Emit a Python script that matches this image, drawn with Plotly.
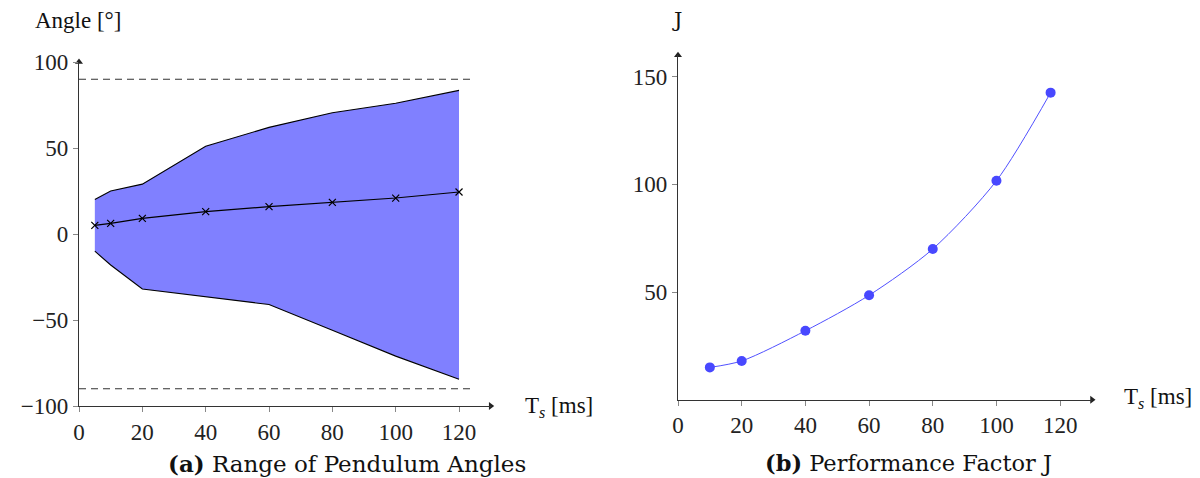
import plotly.graph_objects as go

W, H = 1200, 478

# ---- data (a) ----
ts_a = [5, 10, 20, 40, 60, 80, 100, 120]
angle_max = [20, 25, 29, 51, 62, 70.5, 76, 83.5]
angle_min = [-10, -18, -32, -36.5, -41, -56, -71, -84.5]
angle_mean = [5, 6.2, 9.1, 13, 15.9, 18.4, 20.9, 24.4]
limit_x = [0, 125]
limit_hi = [90, 90]
limit_lo = [-90, -90]

# ---- data (b) ----
ts_b = [10, 20, 40, 60, 80, 100, 117]
perf_j = [15, 18, 32, 48.5, 70, 101.7, 142.6]

xt_vals = [0, 20, 40, 60, 80, 100, 120]
ya_vals = [-100, -50, 0, 50, 100]
ya_text = ["\u2212100", "\u221250", "0", "50", "100"]
yb_vals = [50, 100, 150]

SERIF = "Liberation Serif"
TICK_FONT = dict(family=SERIF, size=23, color="#222")
CAP_FONT = "DejaVu Serif"

def px(x):
    return x / W

def py(y):
    return 1 - y / H

fig = go.Figure()

# filled band
fig.add_trace(go.Scatter(
    x=ts_a + ts_a[::-1], y=angle_max + angle_min[::-1],
    fill="toself", fillcolor="rgb(128,128,255)", line=dict(width=0),
    mode="lines", xaxis="x", yaxis="y", hoverinfo="skip"))
fig.add_trace(go.Scatter(x=ts_a, y=angle_max, mode="lines",
                         line=dict(color="black", width=1.1), xaxis="x", yaxis="y"))
fig.add_trace(go.Scatter(x=ts_a, y=angle_min, mode="lines",
                         line=dict(color="black", width=1.1), xaxis="x", yaxis="y"))
fig.add_trace(go.Scatter(x=ts_a, y=angle_mean, mode="lines+markers",
                         line=dict(color="black", width=1.1),
                         marker=dict(symbol="x-thin", size=7, line=dict(color="black", width=1.2)),
                         xaxis="x", yaxis="y"))
for yy in (limit_hi, limit_lo):
    fig.add_trace(go.Scatter(x=limit_x, y=yy, mode="lines",
                             line=dict(color="#333", width=1.1, dash="7px,5px"),
                             xaxis="x", yaxis="y"))

# (b)
fig.add_trace(go.Scatter(x=ts_b, y=perf_j, mode="lines+markers",
                         line=dict(color="rgb(80,80,255)", width=1, shape="spline", smoothing=0.8),
                         marker=dict(color="rgb(72,72,255)", size=10),
                         xaxis="x2", yaxis="y2"))

# arrow heads at axis ends
for ax_x, ax_y, xx, yy, sym in [("x", "y", 130, -100, "triangle-right"),
                                ("x", "y", 0, 100, "triangle-up"),
                                ("x2", "y2", 130, 0, "triangle-right"),
                                ("x2", "y2", 0, 160, "triangle-up")]:
    fig.add_trace(go.Scatter(x=[xx], y=[yy], mode="markers", xaxis=ax_x, yaxis=ax_y,
                             cliponaxis=False,
                             marker=dict(symbol=sym, size=7, color="#222")))

axis_common = dict(showgrid=False, zeroline=False, showline=True, linecolor="#333",
                   linewidth=1.2, ticks="outside", ticklen=5, tickcolor="#888",
                   tickfont=TICK_FONT, fixedrange=True)

fig.update_layout(
    width=W, height=H, margin=dict(l=0, r=0, t=0, b=0, autoexpand=False),
    paper_bgcolor="white", plot_bgcolor="rgba(0,0,0,0)", showlegend=False,
    xaxis=dict(domain=[px(79), px(490.7)], range=[0, 130], tickvals=xt_vals,
               anchor="y", **axis_common),
    yaxis=dict(domain=[py(406), py(62)], range=[-100, 100], tickvals=ya_vals,
               ticktext=ya_text, anchor="x", **axis_common),
    xaxis2=dict(domain=[px(678), px(1092)], range=[0, 130], tickvals=xt_vals,
                anchor="y2", **axis_common),
    yaxis2=dict(domain=[py(399.7), py(55.2)], range=[0, 160], tickvals=yb_vals,
                anchor="x2", **axis_common),
)

labels = [
    ("Angle [°]", 78, 20, SERIF, 23),
    ("T<sub><i>s</i></sub> [ms]", 559, 407, SERIF, 23),
    ("T<sub><i>s</i></sub> [ms]", 1158, 398, SERIF, 23),
    ("J", 677, 20, CAP_FONT, 21),
    ("<b>(a)</b> Range of Pendulum Angles", 347, 463, CAP_FONT, 23),
    ("<b>(b)</b> Performance Factor J", 908, 463, CAP_FONT, 22.5),
]
for t, x, y, fam, sz in labels:
    fig.add_annotation(text=t, x=px(x), y=py(y), xref="paper", yref="paper",
                       showarrow=False, xanchor="center", yanchor="middle",
                       font=dict(family=fam, size=sz, color="#111"))

fig.write_html("out.html")
